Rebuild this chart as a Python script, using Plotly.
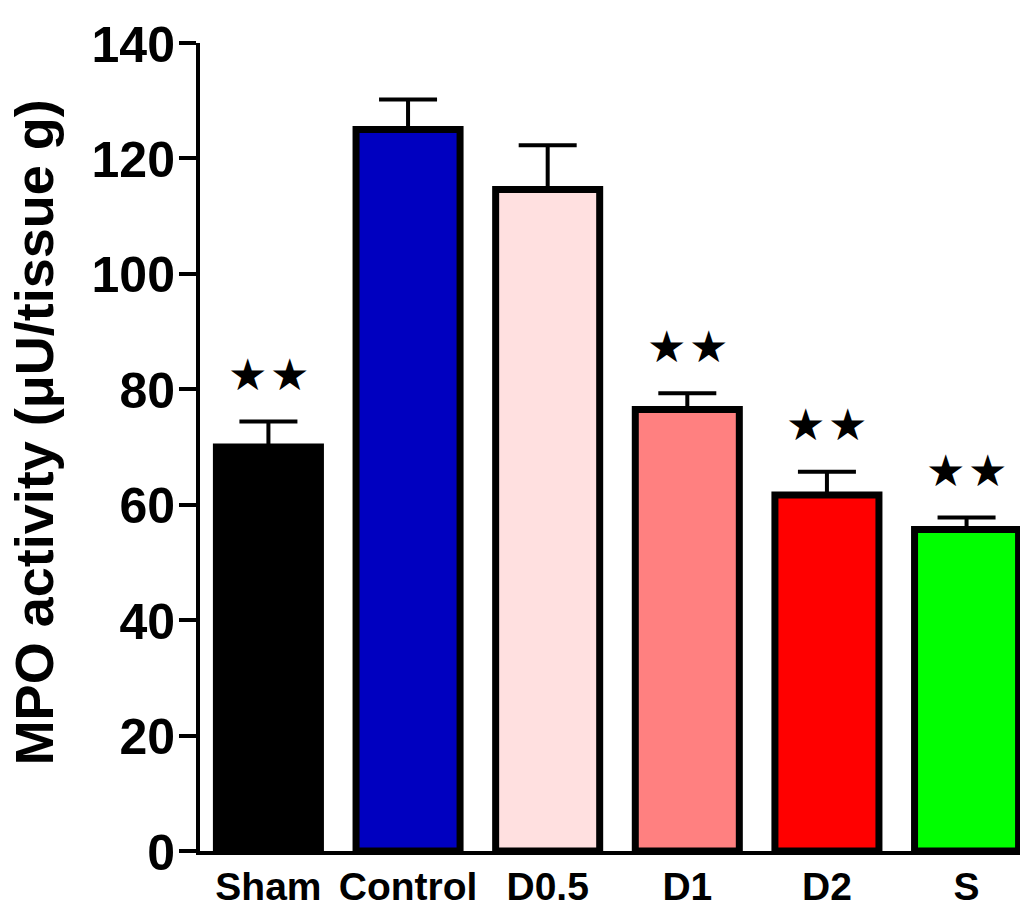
import plotly.graph_objects as go

categories = ["Sham", "Control", "D0.5", "D1", "D2", "S"]
means = [70.0, 125.0, 114.6, 76.5, 61.7, 55.7]
sem = [4.4, 5.2, 7.7, 2.8, 4.0, 2.1]
colors = ["#000000", "#0000C0", "#FFE0E0", "#FF8080", "#FF0000", "#00FF00"]
significant = [True, False, False, True, True, True]
y_ticks = [0, 20, 40, 60, 80, 100, 120, 140]

FONT = "Liberation Sans, Arial, Helvetica, sans-serif"

fig = go.Figure()
fig.add_trace(go.Bar(
    x=categories,
    y=means,
    width=0.745,
    marker=dict(color=colors, line=dict(color="black", width=7)),
    error_y=dict(type="data", symmetric=False, array=sem,
                 arrayminus=[0] * len(sem),
                 color="black", thickness=4, width=29),
    showlegend=False,
))

annotations = []
for cat, m, e, sig in zip(categories, means, sem, significant):
    if sig:
        for dx in (-21, 21):
            annotations.append(dict(
                x=cat, y=m + e, xref="x", yref="y",
                text="★", showarrow=False,
                xshift=dx, yshift=47, yanchor="middle",
                font=dict(family="DejaVu Sans", size=44, color="black"),
            ))

# page body has an 8px default margin; figure sized so plot area lands where the reference has it
annotations.append(dict(
    x=-0.2, y=0.5186, xref="paper", yref="paper",
    text="MPO activity (μU/tissue g)", showarrow=False, textangle=-90,
    xanchor="center", yanchor="middle",
    font=dict(family=FONT, size=54, color="black", weight="bold"),
))

fig.update_layout(
    width=1020, height=896,
    margin=dict(l=192, r=0, t=35, b=53, pad=0, autoexpand=False),
    paper_bgcolor="white", plot_bgcolor="white",
    annotations=annotations,
)
fig.update_xaxes(
    range=[-0.49, 5.44], automargin=False,
    showline=True, linecolor="black", linewidth=4,
    ticks="", showgrid=False, zeroline=False,
    ticklabelstandoff=-2,
    tickfont=dict(family=FONT, size=39, color="black", weight="bold"),
)
fig.update_yaxes(
    range=[0, 140], tickvals=y_ticks, automargin=False,
    showline=True, linecolor="black", linewidth=4,
    ticks="outside", ticklen=17, tickwidth=4, tickcolor="black",
    showgrid=False, zeroline=False,
    ticklabelshift=1, ticklabelstandoff=-6,
    tickfont=dict(family=FONT, size=50, color="black", weight="bold"),
)

fig.write_html("out.html")
